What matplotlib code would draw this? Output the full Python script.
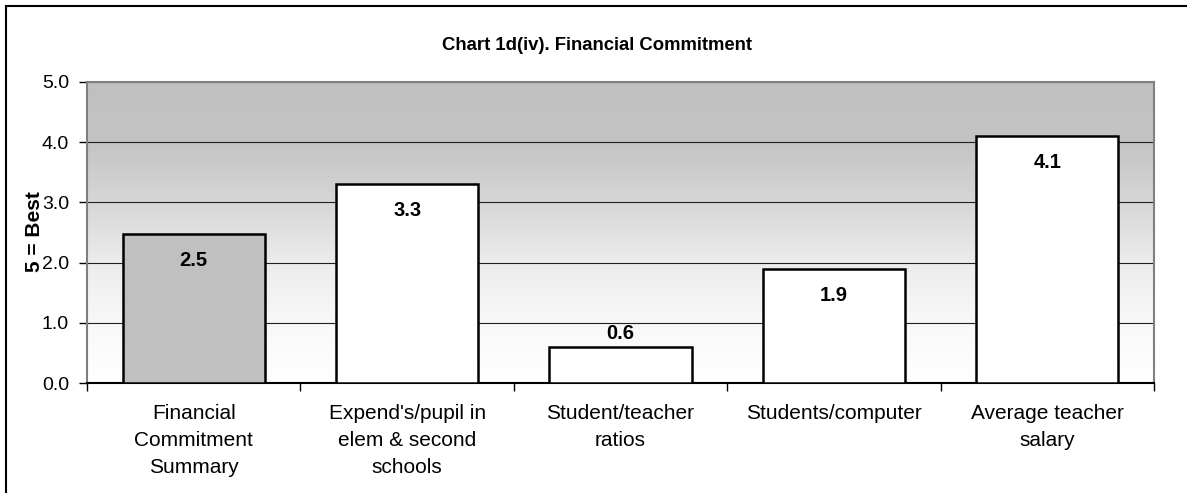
import matplotlib.pyplot as plt
import matplotlib.patches as mpatches
from matplotlib.colors import LinearSegmentedColormap
import numpy as np

plt.rcParams['font.family'] = ['Liberation Sans', 'DejaVu Sans']

categories = ["Financial\nCommitment\nSummary", "Expend's/pupil in\nelem & second\nschools",
              "Student/teacher\nratios", "Students/computer", "Average teacher\nsalary"]
values = [2.48, 3.3, 0.6, 1.9, 4.1]
value_labels = ["2.5", "3.3", "0.6", "1.9", "4.1"]
bar_colors = ["#c0c0c0", "white", "white", "white", "white"]
yticks = [0.0, 1.0, 2.0, 3.0, 4.0, 5.0]

fig = plt.figure(figsize=(11.87, 4.93), dpi=100)
ax = fig.add_axes([0.0733, 0.2231, 0.8989, 0.6106])

# gradient background: gray at top fading to white at the bottom
cmap = LinearSegmentedColormap.from_list(
    "bg", [(0.0, "#ffffff"), (0.2, "#f8f8f8"), (0.4, "#ececec"),
           (0.6, "#d6d6d6"), (0.8, "#c4c4c4"), (1.0, "#c0c0c0")])
grad = np.linspace(0, 1, 256).reshape(-1, 1)
ax.imshow(grad, cmap=cmap, aspect="auto", origin="lower",
          extent=(-0.5, 4.5, 0, 5), zorder=0)

x = np.arange(len(categories))
ax.bar(x, values, width=0.667, color=bar_colors, edgecolor="black", linewidth=1.8, zorder=3)

for xi, v, lab in zip(x, values, value_labels):
    off = 9.5 if v < 1.0 else -19
    ax.annotate(lab, (xi, v), xytext=(0, off), textcoords="offset points",
                ha="center", va="center", fontsize=14.5, fontweight="bold", zorder=4)

ax.set_xlim(-0.5, 4.5)
ax.set_ylim(0, 5)
ax.set_yticks(yticks)
ax.set_yticklabels([f"{t:.1f}" for t in yticks], fontsize=14)
ax.yaxis.grid(True, color="#202020", linewidth=0.8)
for gl in ax.get_ygridlines():
    gl.set_zorder(1)

ax.set_xticks(x)
ax.set_xticklabels(categories, fontsize=15, linespacing=1.55, va="top")
ax.set_xticks(np.arange(-0.5, 5, 1), minor=True)
ax.tick_params(axis="x", which="major", length=0, pad=15)
ax.tick_params(axis="x", which="minor", length=6, width=1, direction="out")
ax.tick_params(axis="y", length=6, width=1, direction="out", pad=7)

for side in ["top", "left", "right"]:
    ax.spines[side].set_color("#808080")
    ax.spines[side].set_linewidth(1.5)
ax.spines["bottom"].set_color("black")
ax.spines["bottom"].set_linewidth(1.5)

fig.text(0.503, 1 - 45 / 493, "Chart 1d(iv). Financial Commitment",
         ha="center", va="center", fontsize=13.3, fontweight="bold")
fig.text(34 / 1187, 1 - 232 / 493, "5 = Best", rotation=90,
         ha="center", va="center", fontsize=15, fontweight="bold")

# outer chart border
border = mpatches.Rectangle((6 / 1187, -0.05), 1.1, 1 - 6 / 493 + 0.05,
                            transform=fig.transFigure, fill=False,
                            edgecolor="black", linewidth=1.5, clip_on=False)
fig.patches.append(border)

fig.savefig("out.png", dpi=100)
